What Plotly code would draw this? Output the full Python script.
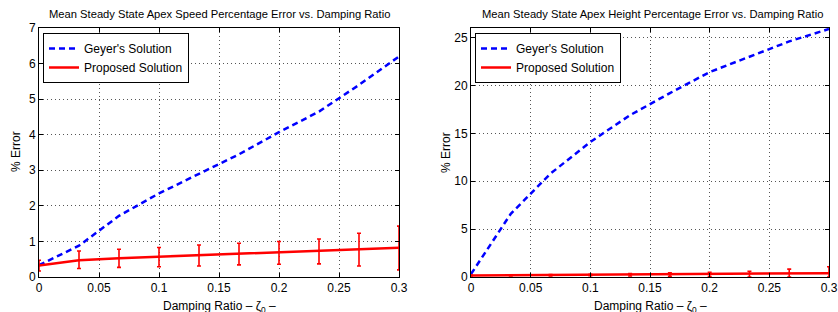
import plotly.graph_objects as go

W, H = 838, 312

damping = [0, 1/30, 2/30, 3/30, 4/30, 5/30, 6/30, 7/30, 8/30, 9/30]

speed_geyer = [0.33, 0.88, 1.72, 2.35, 2.90, 3.45, 4.07, 4.65, 5.40, 6.20]
speed_prop = [0.32, 0.47, 0.53, 0.57, 0.62, 0.65, 0.69, 0.73, 0.77, 0.82]
speed_err_plus = [0.15, 0.26, 0.25, 0.26, 0.28, 0.30, 0.31, 0.34, 0.46, 0.61]
speed_err_minus = [0.15, 0.23, 0.26, 0.28, 0.31, 0.31, 0.33, 0.36, 0.46, 0.62]

height_geyer = [0.3, 6.6, 10.8, 14.1, 16.9, 19.2, 21.4, 23.0, 24.6, 25.9]
height_prop = [0.15, 0.17, 0.19, 0.21, 0.23, 0.25, 0.27, 0.30, 0.34, 0.40]
height_err_plus = [0.05, 0.05, 0.07, 0.08, 0.12, 0.18, 0.22, 0.30, 0.48, 0.67]
height_err_minus = [0.05, 0.05, 0.07, 0.08, 0.12, 0.18, 0.22, 0.30, 0.34, 0.40]

x_ticks = [0, 0.05, 0.1, 0.15, 0.2, 0.25, 0.3]
x_ticklabels = ["0", "0.05", "0.1", "0.15", "0.2", "0.25", "0.3"]
speed_yticks = [0, 1, 2, 3, 4, 5, 6, 7]
height_yticks = [0, 5, 10, 15, 20, 25]

titles = ["Mean Steady State Apex Speed Percentage Error vs. Damping Ratio",
          "Mean Steady State Apex Height Percentage Error vs. Damping Ratio"]
names = ["Geyer's Solution", "Proposed Solution"]
xlabel = "Damping Ratio – ζ<sub>0</sub> –"
ylabel = "% Error"

FONT = "Liberation Sans, Arial, Helvetica, sans-serif"

def px(x):
    return x / W

def py(y):
    return 1 - y / H

fig = go.Figure()

panels = [
    dict(geyer=speed_geyer, prop=speed_prop, ep=speed_err_plus, em=speed_err_minus,
         xa="x", ya="y", legend="legend"),
    dict(geyer=height_geyer, prop=height_prop, ep=height_err_plus, em=height_err_minus,
         xa="x2", ya="y2", legend="legend2"),
]

for p in panels:
    fig.add_trace(go.Scatter(
        x=damping, y=p["geyer"], mode="lines", name=names[0],
        line=dict(color="#0000ff", width=2.5, dash="6px,4px"),
        xaxis=p["xa"], yaxis=p["ya"], legend=p["legend"]))
    fig.add_trace(go.Scatter(
        x=damping, y=p["prop"], mode="lines", name=names[1],
        line=dict(color="#ff0000", width=2.5),
        error_y=dict(type="data", symmetric=False, array=p["ep"], arrayminus=p["em"],
                     color="#ff0000", thickness=1.6, width=2),
        xaxis=p["xa"], yaxis=p["ya"], legend=p["legend"]))

y_dom = [py(277), py(28)]
axis_common = dict(
    showline=True, linecolor="black", linewidth=1, mirror="ticks",
    ticks="inside", ticklen=4, tickcolor="black", automargin=False,
    showgrid=True, gridcolor="#555555", griddash="1px,3px", gridwidth=1,
    zeroline=False, tickfont=dict(family=FONT, size=12, color="black"),
)

legend_common = dict(
    xanchor="left", yanchor="top",
    bgcolor="white", bordercolor="black", borderwidth=1,
    font=dict(family=FONT, size=12, color="black"), tracegroupgap=0,
    itemwidth=30,
)

fig.update_layout(
    template="none",
    width=W, height=H,
    margin=dict(l=0, r=0, t=0, b=0),
    paper_bgcolor="white", plot_bgcolor="white",
    font=dict(family=FONT, size=12, color="black"),
    xaxis=dict(domain=[px(39), px(399)], range=[0, 0.3], anchor="y",
               tickvals=x_ticks, ticktext=x_ticklabels, **axis_common),
    yaxis=dict(domain=y_dom, range=[0, 7], anchor="x",
               tickvals=speed_yticks, **axis_common),
    xaxis2=dict(domain=[px(471), px(829)], range=[0, 0.3], anchor="y2",
                tickvals=x_ticks, ticktext=x_ticklabels, **axis_common),
    yaxis2=dict(domain=y_dom, range=[0, 26], anchor="x2",
                tickvals=height_yticks, **axis_common),
    legend=dict(x=px(43), y=py(33), **legend_common),
    legend2=dict(x=px(475), y=py(33), **legend_common),
    showlegend=True,
)

ann = []
for cx, t in [((39 + 399) / 2, titles[0]), ((471 + 829) / 2 + 2, titles[1])]:
    ann.append(dict(x=px(cx), y=py(14), xref="paper", yref="paper", text=t,
                    showarrow=False, xanchor="center", yanchor="middle",
                    font=dict(family=FONT, size=11.2, color="black")))
for cx in [(39 + 399) / 2, (471 + 829) / 2]:
    ann.append(dict(x=px(cx), y=py(297), xref="paper", yref="paper", text=xlabel,
                    showarrow=False, xanchor="center", yanchor="top",
                    font=dict(family=FONT, size=12, color="black")))
for lx in [16, 446]:
    ann.append(dict(x=px(lx), y=py(152), xref="paper", yref="paper", text=ylabel,
                    showarrow=False, xanchor="center", yanchor="middle", textangle=-90,
                    font=dict(family=FONT, size=12, color="black")))
fig.update_layout(annotations=ann)

fig.write_html("out.html",
               config={"displayModeBar": False},
               post_script="document.body.style.margin='0px';document.body.style.overflow='hidden';")
